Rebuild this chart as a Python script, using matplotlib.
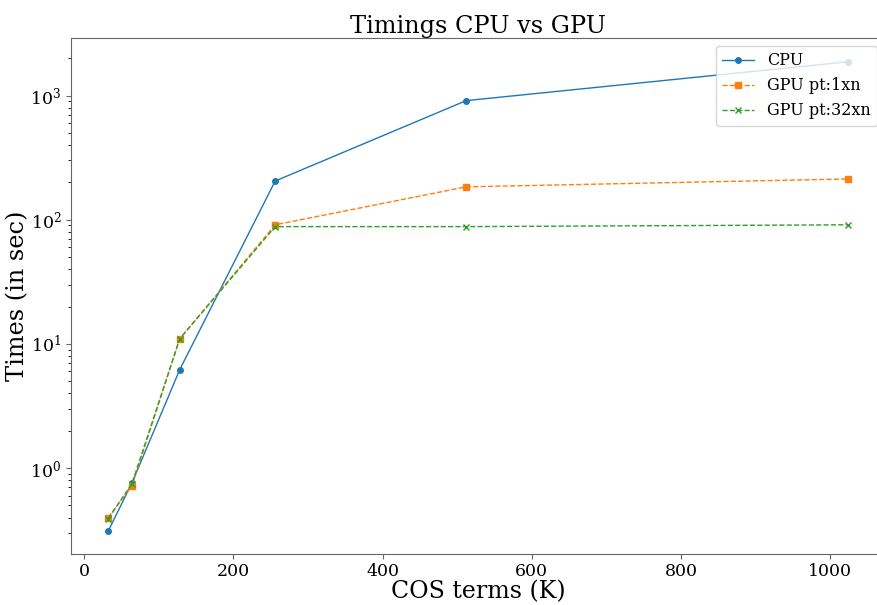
import matplotlib
matplotlib.use("Agg")
import matplotlib.pyplot as plt

cos_terms = [32, 64, 128, 256, 512, 1024]
cpu_times = [0.31, 0.76, 6.2, 205, 910, 1870]
gpu_1xn_times = [0.40, 0.72, 11, 91, 184, 213]
gpu_32xn_times = [0.39, 0.75, 11, 88, 88, 91]

plt.rcParams["font.family"] = "DejaVu Serif"

fig = plt.figure(figsize=(8.78, 6.05), dpi=100)
ax = fig.add_axes([0.081, 0.085, 0.927, 0.852])

ax.plot(cos_terms, cpu_times, "-o", lw=1, ms=4, label="CPU")
ax.plot(cos_terms, gpu_1xn_times, "--s", lw=1, ms=4, label="GPU pt:1xn")
ax.plot(cos_terms, gpu_32xn_times, "--x", lw=1, ms=4, label="GPU pt:32xn")

ax.set_yscale("log")
ax.set_ylim(0.205, 2900)
ax.set_title("Timings CPU vs GPU", fontsize=17.3, pad=3)
ax.set_xlabel("COS terms (K)", fontsize=17, labelpad=0)
ax.set_ylabel("Times (in sec)", fontsize=17.3, labelpad=1)
ax.tick_params(labelsize=12.5, colors="0.4", labelcolor="black")
for side in ax.spines.values():
    side.set_color("0.4")
ax.legend(loc="upper right", fontsize=11.5)

fig.savefig("out.png")
